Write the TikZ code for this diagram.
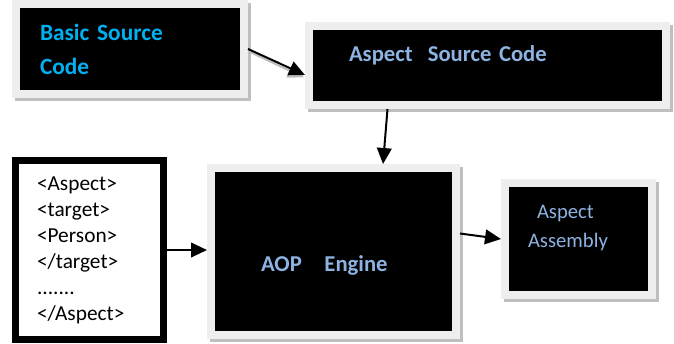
\documentclass[tikz,border=0pt]{standalone}
\usepackage{fontspec}
\setmainfont{Carlito}
\definecolor{cyantext}{HTML}{00B0F0}
\definecolor{paleblue}{HTML}{8DB3E2}
\definecolor{framegray}{HTML}{EEEEEE}
\definecolor{shadowgray}{HTML}{BFBFBF}
\usetikzlibrary{calc}
\usetikzlibrary{arrows.meta}
\usetikzlibrary{shadows}
\usetikzlibrary{positioning}
\tikzstyle{box}=[fill=black, draw=framegray, line width=6pt, inner sep=0pt, align=left, general shadow={fill=shadowgray, draw=shadowgray, line width=6pt, shadow xshift=2pt, shadow yshift=-2pt}]
\tikzstyle{titlebox}=[box, text=paleblue, font={\bfseries\fontsize{17}{24}\selectfont}]
\tikzstyle{codebox}=[draw=black, line width=5.25pt, fill=white, inner sep=0pt, align=left, font={\fontsize{16}{19.5}\selectfont}]
\tikzstyle{link}=[-{Triangle[length=12pt, width=11pt]}, line width=1.5pt]
\tikzstyle{linkshadow}=[link, draw=shadowgray, fill=shadowgray]

\begin{document}
\begin{tikzpicture}[x=0.75pt, y=-0.75pt]

    \useasboundingbox (0, 0) rectangle (674, 343);

    \node[titlebox, text=cyantext, minimum width=171pt, minimum height=67.5pt, text width=135pt, font={\bfseries\fontsize{17.5}{25.5}\selectfont}] (basic) at (130, 49) {Basic Source\\Code};

    \node[titlebox, minimum width=267.75pt, minimum height=59.25pt, text width=207.75pt, text height=12pt, text depth=18pt] (aspsrc) at (487.5, 65.5) {Aspect\ \ Source Code};

    \node[titlebox, minimum width=183.75pt, minimum height=125.25pt, text width=108.75pt, text height=40pt, text depth=10pt] (engine) at (333.5, 251.5) {AOP\ \ \ Engine};

    \node[box, text=paleblue, minimum width=110.25pt, minimum height=84pt, text width=75.75pt, font={\fontsize{15.5}{21.75}\selectfont}, text depth=40.5pt] (assembly) at (578.5, 239) {\hspace*{6.75pt}Aspect\\Assembly};

    \node[codebox, minimum width=111pt, minimum height=134.25pt, text width=78.75pt] (xml) at (89.5, 250) {<Aspect>\\<target>\\<Person>\\</target>\\.......\\</Aspect>};

    \draw[linkshadow] ($(basic.east)+(1,2.5)$) -- ($(aspsrc.west)+(-1,12)$);
    \draw[link] (basic.east) -- ($(aspsrc.west)+(0, 9.5)$);
    \draw[link] ($(aspsrc.south)+(-100, 0)$) -- ($(engine.north)+(49.5, 0)$);
    \draw[link] (xml.east) -- (xml.east -| engine.west);
    \draw[link] ($(engine.east)+(0, -18)$) -- (assembly.west);

\end{tikzpicture}
\end{document}
